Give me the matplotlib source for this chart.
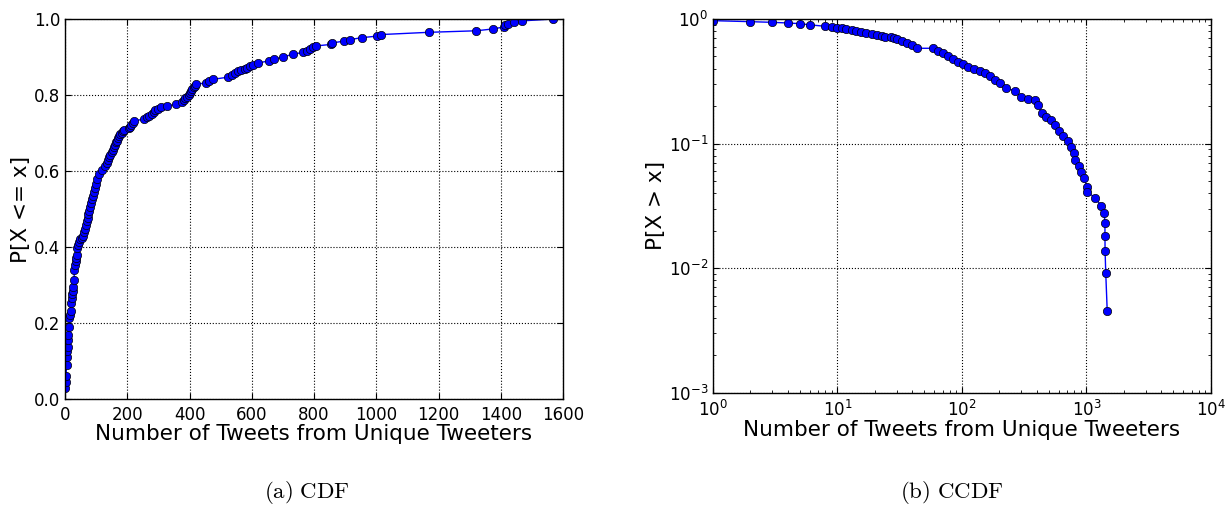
import numpy as np
import matplotlib
matplotlib.use('Agg')
import matplotlib.pyplot as plt

# CDF panel: number of tweets vs P[X <= x]
cdf_x = [0, 2, 3, 5, 6, 7, 8, 10, 11, 13, 14, 16, 18, 19, 21, 23, 25, 27, 29, 30,
         32, 34, 36, 38, 40, 42, 44, 47, 55, 59, 62, 64, 67, 70, 73, 75, 78, 80, 83, 86,
         89, 92, 95, 99, 104, 109, 118, 129, 134, 138, 142, 146, 150, 154, 158, 161, 165, 168, 171, 174,
         178, 182, 185, 188, 206, 210, 213, 217, 220, 253, 262, 269, 280, 285, 290, 299, 308, 329, 357, 375,
         381, 386, 392, 397, 401, 404, 409, 413, 417, 421, 453, 463, 474, 524, 535, 545, 556, 566, 577, 585,
         593, 605, 619, 656, 672, 699, 731, 763, 776, 787, 797, 805, 853, 859, 897, 916, 955, 1003, 1014, 1170,
         1322, 1376, 1410, 1414, 1424, 1442, 1467, 1569]
cdf_y = [0.029, 0.045, 0.06, 0.09, 0.11, 0.125, 0.138, 0.155, 0.168, 0.19, 0.212, 0.222, 0.232, 0.252, 0.265, 0.276, 0.285, 0.294, 0.313, 0.34,
         0.353, 0.362, 0.372, 0.38, 0.397, 0.405, 0.414, 0.42, 0.424, 0.43, 0.44, 0.448, 0.458, 0.468, 0.477, 0.486, 0.496, 0.505, 0.515, 0.525,
         0.535, 0.545, 0.556, 0.566, 0.578, 0.592, 0.602, 0.612, 0.62, 0.63, 0.636, 0.642, 0.65, 0.656, 0.662, 0.668, 0.675, 0.68, 0.686, 0.692,
         0.697, 0.7, 0.704, 0.707, 0.712, 0.716, 0.721, 0.726, 0.731, 0.737, 0.741, 0.745, 0.749, 0.754, 0.76, 0.764, 0.768, 0.771, 0.776, 0.781,
         0.786, 0.791, 0.795, 0.8, 0.806, 0.811, 0.816, 0.82, 0.824, 0.828, 0.832, 0.836, 0.841, 0.847, 0.853, 0.858, 0.862, 0.866, 0.869, 0.872,
         0.875, 0.879, 0.884, 0.89, 0.894, 0.9, 0.907, 0.912, 0.916, 0.92, 0.925, 0.929, 0.933, 0.937, 0.942, 0.946, 0.951, 0.955, 0.959, 0.965,
         0.969, 0.974, 0.979, 0.983, 0.987, 0.991, 0.995, 1.0]

# CCDF panel: number of tweets vs P[X > x] (log-log)
ccdf_x = [1, 2, 3, 4, 5, 6, 8, 9, 9.85, 10.8, 11.8, 13, 14.2, 15.6, 17.1, 18.8, 20.6, 22.6, 24, 27,
          28.5, 30, 32.9, 36, 39.4, 43.2, 58.8, 64.5, 70.7, 77.5, 85, 93.3, 102, 112, 124, 139, 153, 168, 184, 202,
          227, 265, 299, 337, 383, 411, 436, 472, 519, 559, 601, 648, 713, 752, 790, 812, 868, 912, 955, 1011,
          1019, 1162, 1318, 1391, 1409, 1409, 1412, 1430, 1469]
ccdf_y = [0.97, 0.952, 0.94, 0.929, 0.917, 0.897, 0.874, 0.858, 0.85, 0.842, 0.831, 0.816, 0.8, 0.787, 0.772, 0.753, 0.74, 0.727, 0.722, 0.715,
          0.705, 0.691, 0.666, 0.645, 0.618, 0.582, 0.582, 0.554, 0.53, 0.505, 0.475, 0.455, 0.435, 0.41, 0.397, 0.382, 0.367, 0.349, 0.324, 0.305,
          0.278, 0.266, 0.238, 0.229, 0.224, 0.204, 0.177, 0.163, 0.155, 0.141, 0.125, 0.114, 0.104, 0.094, 0.084, 0.074, 0.066, 0.0595, 0.0527, 0.0451,
          0.0411, 0.0368, 0.0317, 0.0276, 0.0229, 0.0182, 0.0138, 0.0091, 0.00454]

xlabel = 'Number of Tweets from Unique Tweeters'

fig = plt.figure(figsize=(12.25, 5.08), dpi=100)
ax1 = fig.add_axes([0.0531, 0.2146, 0.4065, 0.748])
ax2 = fig.add_axes([0.582, 0.227, 0.4065, 0.7356])

style = dict(color='blue', linewidth=1.0, marker='o', markersize=6,
             markerfacecolor='blue', markeredgecolor='black', markeredgewidth=0.5)

ax1.plot(cdf_x, cdf_y, **style)
ax1.set_xlim(0, 1600)
ax1.set_ylim(0, 1.0)
ax1.set_xticks(np.arange(0, 1601, 200))
ax1.set_yticks(np.arange(0, 1.01, 0.2))
ax1.set_ylabel('P[X <= x]', fontsize=15.5, labelpad=2)
ax1.set_xlabel(xlabel, fontsize=15.5, labelpad=0)

ax2.plot(ccdf_x, ccdf_y, **style)
ax2.set_xscale('log')
ax2.set_yscale('log')
ax2.set_xlim(1, 1e4)
ax2.set_ylim(1e-3, 1)
ax2.set_ylabel('P[X > x]', fontsize=15.5, labelpad=2)
ax2.set_xlabel(xlabel, fontsize=15.5, labelpad=0)

for ax in (ax1, ax2):
    ax.grid(True, color='black', linestyle=':', linewidth=0.8)
    ax.tick_params(which='both', direction='in', top=True, right=True, labelsize=12)
    ax.tick_params(which='major', length=4, width=0.8)
    ax.tick_params(which='minor', length=2, width=0.6)
    ax.tick_params(axis='x', pad=5)
    for s in ax.spines.values():
        s.set_linewidth(1.0)

fig.text(0.251, 0.03, r'$\mathrm{(a)\ CDF}$', ha='center', va='center',
         fontsize=16.5, math_fontfamily='cm')
fig.text(0.777, 0.03, r'$\mathrm{(b)\ CCDF}$', ha='center', va='center',
         fontsize=16.5, math_fontfamily='cm')

fig.savefig('out.png', dpi=100)
